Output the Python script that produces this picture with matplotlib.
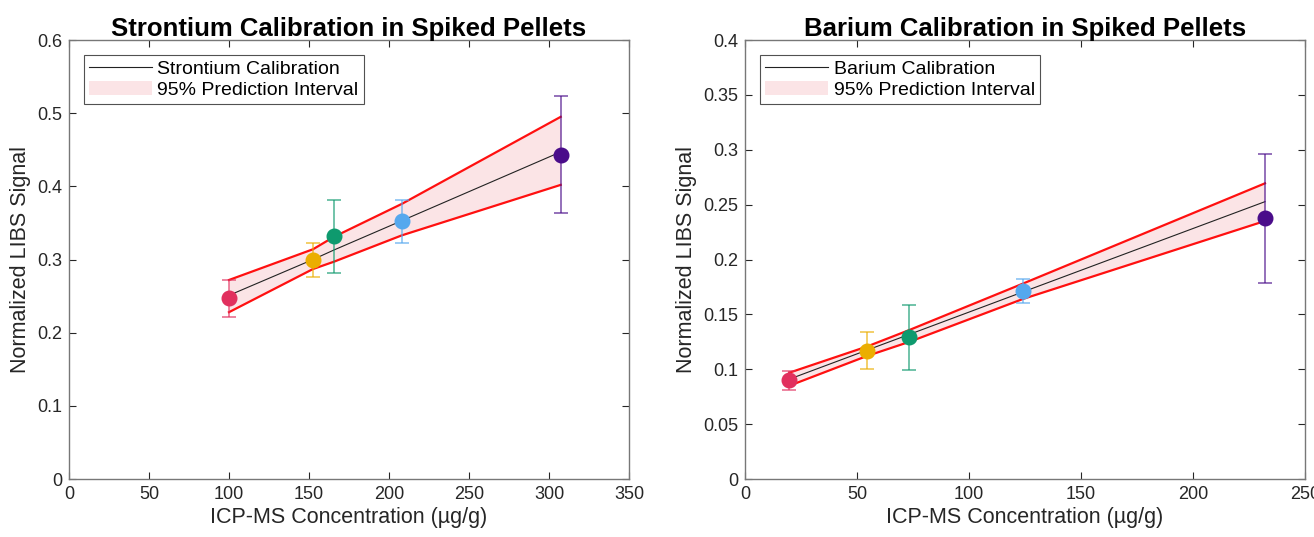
import matplotlib.pyplot as plt
from matplotlib.patches import Patch
from matplotlib.lines import Line2D

plt.rcParams["font.family"] = ["Liberation Sans", "DejaVu Sans"]

POINT_COLORS = ["#E1305E", "#EBAE00", "#0E9A6E", "#55A8EE", "#4A0C8A"]

# Strontium data (µg/g vs normalized signal)
sr_conc = [100.0, 152.5, 165.6, 208.0, 307.3]
sr_signal = [0.247, 0.299, 0.332, 0.352, 0.443]
sr_err = [0.025, 0.023, 0.050, 0.029, 0.080]
sr_fit = [0.251, 0.300, 0.313, 0.353, 0.447]
sr_pi_upper = [0.272, 0.314, 0.331, 0.376, 0.495]
sr_pi_lower = [0.228, 0.287, 0.297, 0.333, 0.402]

# Barium data
ba_conc = [19.8, 54.3, 73.4, 124.0, 232.1]
ba_signal = [0.090, 0.117, 0.129, 0.171, 0.2375]
ba_err = [0.0088, 0.0172, 0.0297, 0.011, 0.0585]
ba_fit = [0.091, 0.1173, 0.1318, 0.1704, 0.2527]
ba_pi_upper = [0.0969, 0.1206, 0.1358, 0.178, 0.2694]
ba_pi_lower = [0.085, 0.112, 0.125, 0.164, 0.2351]


def draw_panel(ax, conc, signal, err, fit, upper, lower, element, xlim, ylim, xticks, yticks):
    ax.fill_between(conc, lower, upper, color="#FBE4E6", lw=0, zorder=1)
    ax.plot(conc, upper, color="#FF1010", lw=1.6, zorder=2)
    ax.plot(conc, lower, color="#FF1010", lw=1.6, zorder=2)
    ax.plot(conc, fit, color="#222222", lw=0.8, zorder=3)
    for x, y, e, c in zip(conc, signal, err, POINT_COLORS):
        ax.errorbar(x, y, yerr=e, fmt="none", ecolor=c, alpha=0.75, elinewidth=1.1,
                    capsize=4.8, capthick=1.1, zorder=4)
        ax.plot(x, y, "o", color=c, ms=10.5, mec=c, zorder=5)
    ax.set_xlim(xlim)
    ax.set_ylim(ylim)
    ax.set_xticks(xticks)
    ax.set_yticks(yticks)
    ax.set_yticklabels([f"{t:g}" for t in yticks])
    ax.tick_params(direction="in", top=True, right=True, labelsize=13, colors="#262626",
                   length=5, width=0.8, pad=5)
    for sp in ax.spines.values():
        sp.set_color("#777777")
        sp.set_linewidth(1.0)
    ax.set_xlabel("ICP-MS Concentration (µg/g)", fontsize=15.5, color="#262626", labelpad=3)
    ax.set_ylabel("Normalized LIBS Signal", fontsize=15.5, color="#262626")
    ax.set_title(f"{element} Calibration in Spiked Pellets", fontsize=18.5,
                 fontweight="bold", pad=3)
    handles = [Line2D([0], [0], color="#222222", lw=0.8),
               Patch(facecolor="#FBE4E6", edgecolor="none")]
    leg = ax.legend(handles, [f"{element} Calibration", "95% Prediction Interval"],
                    loc="upper left", fontsize=14, frameon=True, fancybox=False,
                    edgecolor="#262626", handlelength=3.2, borderaxespad=0.75,
                    labelspacing=0.15, borderpad=0.3, handletextpad=0.3)
    leg.get_frame().set_linewidth(0.8)


fig = plt.figure(figsize=(13.14, 5.37), dpi=100)
ax1 = fig.add_axes([0.0525, 0.108, 0.4262, 0.8175])
ax2 = fig.add_axes([0.567, 0.108, 0.4262, 0.8175])

draw_panel(ax1, sr_conc, sr_signal, sr_err, sr_fit, sr_pi_upper, sr_pi_lower, "Strontium",
           (0, 350), (0, 0.6), [0, 50, 100, 150, 200, 250, 300, 350],
           [0, 0.1, 0.2, 0.3, 0.4, 0.5, 0.6])
draw_panel(ax2, ba_conc, ba_signal, ba_err, ba_fit, ba_pi_upper, ba_pi_lower, "Barium",
           (0, 250), (0, 0.4), [0, 50, 100, 150, 200, 250],
           [0, 0.05, 0.1, 0.15, 0.2, 0.25, 0.3, 0.35, 0.4])

fig.savefig("out.png", dpi=100)
